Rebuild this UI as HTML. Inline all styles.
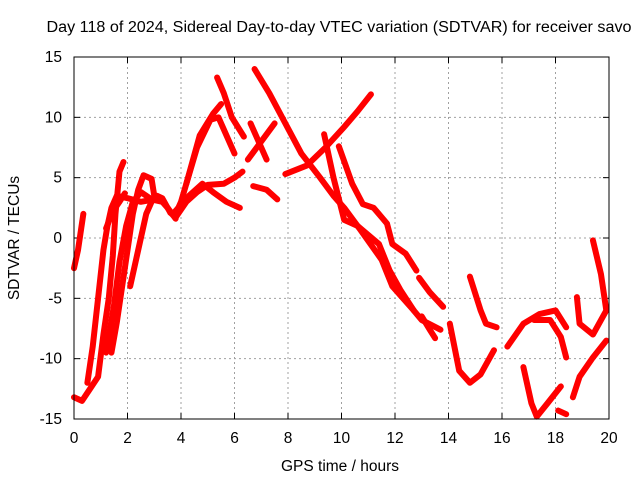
<!DOCTYPE html>
<html><head><meta charset="utf-8"><style>
body{margin:0;background:#fff}
svg text{font-family:"Liberation Sans",sans-serif;font-size:15.5px;fill:#000}
</style></head><body>
<svg id="chart" width="640" height="480" viewBox="0 0 640 480" xmlns="http://www.w3.org/2000/svg">
<rect width="640" height="480" fill="#fff"/>
<text x="339" y="32" text-anchor="middle" textLength="585" lengthAdjust="spacingAndGlyphs">Day 118 of 2024, Sidereal Day-to-day VTEC variation (SDTVAR) for receiver savo</text>
<text x="340" y="471" text-anchor="middle">GPS time / hours</text>
<text transform="translate(19,238) rotate(-90)" text-anchor="middle">SDTVAR / TECUs</text>
<g id="grid"></g><g id="ticks"></g><g id="marks"></g>
<rect x="74" y="57" width="535" height="362" fill="none" stroke="#000" stroke-width="1"/>
</svg>
<script>
const xTicks=[0,2,4,6,8,10,12,14,16,18,20];
const yTicks=[-15,-10,-5,0,5,10,15];
const trackA=[[0,-13.2],[0.3,-13.5],[0.6,-12.5],[0.9,-11.5],[1.1,-8],[1.3,-5],[1.45,-1.5],[1.55,2],[1.7,5.5],[1.85,6.3]];
const trackA0=[[0,-2.5],[0.15,-1],[0.35,2]];
const trackB=[[0.5,-12],[0.7,-9],[0.9,-5],[1.1,-1],[1.25,1],[1.4,2.5],[1.6,3.5],[2,3.3],[2.5,3],[3,3.2]];
const trackC=[[1.4,-9.5],[1.6,-7],[1.8,-4],[2.0,-1],[2.2,2],[2.4,4],[2.6,5.2],[2.9,4.9],[3,3.5],[3.3,3]];
const trackD=[[1.2,-9.5],[1.5,-5.5],[1.7,-2],[1.95,1],[2.2,3],[2.5,3.8],[2.9,3.2],[3.3,3],[3.5,2.5],[3.8,1.6]];
const trackE=[[1.2,0.8],[1.45,2.2],[1.7,3],[1.9,3.7]];
const trackF=[[2.1,-4],[2.4,-1],[2.7,2],[2.9,3],[3.1,3.5],[3.3,3.3],[3.6,2.1]];
const trackG=[[3.6,2.1],[3.8,1.7],[4.2,3],[4.6,3.8],[5,4.4],[5.6,4.5],[6.0,5],[6.3,5.5]];
const trackH=[[3.7,2],[4.3,3.5],[4.8,4.5],[5.2,3.8],[5.7,3],[6.2,2.5]];
const trackI1=[[3.8,2],[4.0,3],[4.6,7.5],[5.1,9.8],[5.4,10],[5.7,8.5],[6.0,7]];
const trackI2=[[4.2,4.5],[4.7,8.5],[5.2,10.3],[5.5,11.1]];
const trackI3=[[5.35,13.3],[5.6,12],[5.9,10],[6.35,8.4]];
const trackJ=[[6.75,14],[7.3,12],[7.9,9.5],[8.5,7],[9.2,5],[9.7,3.5],[10.1,2.5],[10.7,0.7],[11.5,-1.8],[11.9,-4],[12.7,-6]];
const trackK=[[7.9,5.3],[8.7,6],[9.4,7.5],[10.1,9.2],[10.6,10.5],[11.1,11.9]];
const trackL=[[9.9,7.6],[10.4,4.5],[10.8,2.8],[11.2,2.5],[11.7,1.2],[11.9,-0.5],[12.4,-1.3],[12.8,-2.7]];
const trackM=[[9.35,8.6],[9.7,5],[10.1,1.5],[10.6,1],[11.4,-0.5],[11.8,-2.7],[12.2,-4.3],[12.7,-6],[13,-6.8],[13.7,-7.6]];
const trackM2=[[12.9,-3.3],[13.3,-4.5],[13.8,-5.7]];
const trackM3=[[13.0,-6.5],[13.3,-7.6],[13.5,-8.3]];
const trackN=[[6.7,4.3],[7.2,4],[7.6,3.2]];
const trackX1=[[6.6,9.5],[7.2,6.5]];
const trackX2=[[6.5,6.5],[7.5,9.5]];
const trackQ=[[14.05,-7.1],[14.4,-11],[14.8,-12],[15.2,-11.3],[15.7,-9.3]];
const trackR=[[14.8,-3.2],[15.2,-6],[15.4,-7.1],[15.8,-7.4]];
const trackS=[[16.2,-9],[16.8,-7.1],[17.4,-6.3],[18,-6],[18.4,-7.4]];
const trackS2=[[17.2,-6.8],[17.8,-6.8],[18.2,-8.2],[18.4,-9.9]];
const trackT=[[16.8,-10.7],[17.1,-13.7],[17.3,-14.8],[17.7,-13.7],[18.2,-12.3]];
const trackT2=[[18.1,-14.3],[18.4,-14.6]];
const trackU=[[19.4,-0.2],[19.7,-3],[19.9,-6]];
const trackV=[[18.65,-13.2],[18.9,-11.5],[19.4,-9.9],[19.9,-8.5]];
const trackW=[[18.8,-4.9],[18.9,-7.1],[19.4,-8],[19.9,-6]];
const tracks=[trackA,trackA0,trackB,trackC,trackD,trackE,trackF,trackG,trackH,trackI1,trackI2,trackI3,trackJ,trackK,trackL,trackM,trackM2,trackM3,trackN,trackX1,trackX2,trackQ,trackR,trackS,trackS2,trackT,trackT2,trackU,trackV,trackW];
const NS="http://www.w3.org/2000/svg";
const X0=74,X1=609,Y0=419,Y1=57;
function xs(h){return X0+(h-0)/20*(X1-X0);}
function ys(v){return Y0-(v+15)/30*(Y0-Y1);}
const grid=document.getElementById('grid'),ticks=document.getElementById('ticks'),marks=document.getElementById('marks');
function mk(tag,attrs,parent){const e=document.createElementNS(NS,tag);for(const k in attrs)e.setAttribute(k,attrs[k]);parent.appendChild(e);return e;}
xTicks.forEach(t=>{
  const x=xs(t);
  if(t>0&&t<20){const g=mk('line',{x1:x,x2:x,y1:Y1,y2:Y0,stroke:'#a0a0a0','stroke-dasharray':'2,3'},grid);
  
  }
  mk('line',{x1:x,x2:x,y1:Y0,y2:Y0-6,stroke:'#000'},ticks);
  mk('line',{x1:x,x2:x,y1:Y1,y2:Y1+6,stroke:'#000'},ticks);
  const l=mk('text',{x:x,y:443,'text-anchor':'middle'},ticks);l.textContent=t;
  
  
});
yTicks.forEach(t=>{
  const y=ys(t);
  if(t>-15&&t<15){const g=mk('line',{x1:X0,x2:X1,y1:y,y2:y,stroke:'#a0a0a0','stroke-dasharray':'2,3'},grid);
  
  }
  mk('line',{x1:X0,x2:X0+6,y1:y,y2:y,stroke:'#000'},ticks);
  mk('line',{x1:X1,x2:X1-6,y1:y,y2:y,stroke:'#000'},ticks);
  const l=mk('text',{x:62,y:y+5,'text-anchor':'end'},ticks);l.textContent=t;
  
  
});
tracks.forEach(tr=>{
  const p=mk('polyline',{points:tr.map(d=>xs(d[0])+','+ys(d[1])).join(' '),fill:'none',stroke:'#ff0000','stroke-width':6,'stroke-linejoin':'round','stroke-linecap':'round'},marks);
  
  
});
</script>
</body></html>
